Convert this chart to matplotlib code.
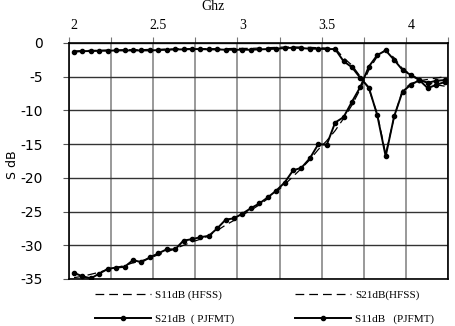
import numpy as np
import matplotlib.pyplot as plt

# frequency points (GHz)
freq = np.round(np.arange(2.0, 4.2001, 0.05), 2)

s21_meas = [-34.1, -34.6, -34.9, -34.2, -33.5, -33.3, -33.2, -32.2, -32.5, -31.8,
            -31.2, -30.6, -30.6, -29.3, -29.1, -28.8, -28.6, -27.5, -26.2, -26.0,
            -25.3, -24.5, -23.8, -22.9, -21.9, -20.7, -18.9, -18.5, -17.1, -15.0,
            -15.1, -11.8, -11.0, -8.7, -6.5, -3.5, -1.8, -1.1, -2.5, -4.0,
            -4.75, -5.5, -5.9, -5.6, -5.5]
s11_meas = [-1.3, -1.2, -1.2, -1.15, -1.15, -1.1, -1.1, -1.1, -1.1, -1.1,
            -1.05, -1.0, -0.95, -0.95, -0.9, -0.9, -0.95, -0.95, -1.0, -1.0,
            -1.0, -1.0, -0.95, -0.9, -0.85, -0.75, -0.7, -0.75, -0.85, -0.85,
            -0.9, -0.9, -2.7, -3.6, -5.2, -6.6, -10.7, -16.8, -10.9, -7.2,
            -6.2, -5.5, -6.7, -6.2, -5.8]
s21_hfss = [-34.8, -34.6, -34.3, -34.0, -33.6, -33.3, -33.0, -32.6, -32.3, -31.9,
            -31.4, -31.0, -30.5, -30.0, -29.5, -29.1, -28.6, -27.8, -27.0, -26.3,
            -25.5, -24.8, -24.0, -23.1, -22.1, -21.0, -19.8, -18.6, -17.3, -15.8,
            -14.5, -13.0, -11.2, -9.2, -6.8, -4.0, -2.0, -1.0, -2.2, -3.8,
            -4.7, -5.4, -5.9, -6.2, -6.4]
s11_hfss = [-1.2, -1.15, -1.1, -1.1, -1.05, -1.05, -1.0, -1.0, -1.0, -0.95,
            -0.95, -0.9, -0.9, -0.85, -0.85, -0.85, -0.85, -0.85, -0.85, -0.8,
            -0.8, -0.8, -0.75, -0.7, -0.65, -0.6, -0.6, -0.6, -0.65, -0.7,
            -0.75, -0.8, -2.2, -3.3, -5.0, -6.8, -10.5, -16.5, -11.0, -7.0,
            -6.0, -5.6, -5.4, -5.2, -5.0]

x_labels = [2, 2.5, 3, 3.5, 4]
y_ticks = [0, -5, -10, -15, -20, -25, -30, -35]

fig = plt.figure(figsize=(4.55, 3.26), dpi=100)
ax = fig.add_axes([69/455, 1-279/326, 379/455, 236/326])

dash = (0, (7, 4))
l1, = ax.plot(freq, s11_hfss, color='black', lw=0.9, linestyle=dash)
l2, = ax.plot(freq, s21_hfss, color='black', lw=0.9, linestyle=dash)
l3, = ax.plot(freq, s21_meas, color='black', lw=1.4, marker='o', ms=3)
l4, = ax.plot(freq, s11_meas, color='black', lw=1.4, marker='o', ms=3)

ax.set_xlim(1.97, 4.22)
ax.set_ylim(-35, 0)

# vertical grid on Excel-like category ticks, labels placed separately
grid_x = 1.97 + 0.25 * np.arange(10)
ax.set_xticks(grid_x)
ax.set_xticklabels([''] * len(grid_x))
ax.set_xticks(x_labels, minor=True)
ax.set_xticklabels([str(v) for v in x_labels], minor=True,
                   family='Liberation Serif', fontsize=10)
ax.xaxis.tick_top()
ax.tick_params(axis='x', which='major', direction='out', length=4, color='#777777')
ax.tick_params(axis='x', which='minor', length=0, pad=8)
ax.grid(axis='x', which='major', color='#888888', lw=1.2)

ax.set_yticks(y_ticks)
ax.set_yticklabels([str(v) for v in y_ticks], family='DejaVu Sans', fontsize=10)
ax.tick_params(axis='y', direction='out', length=4, color='#555555', pad=15)
ax.grid(axis='y', color='#333333', lw=1.0)
ax.set_axisbelow(True)

for sp in ax.spines.values():
    sp.set_color('black')
    sp.set_linewidth(1.2)

fig.text(13/455, 1-165/326, 'S dB', rotation=90, ha='center', va='center',
         family='DejaVu Sans', fontsize=9)
fig.text(213/455, 1-10/326, 'Ghz', ha='center', va='baseline',
         family='Liberation Serif', fontsize=10)

fig.legend([l1, l3, l2, l4],
           ['S11dB (HFSS)', 'S21dB  ( PJFMT)', 'S21dB(HFSS)', 'S11dB   (PJFMT)'],
           ncol=2, loc='upper left', bbox_to_anchor=(95/455, 1-290/326),
           frameon=False, borderpad=0, borderaxespad=0, handlelength=5,
           handletextpad=0.4, columnspacing=5.5, labelspacing=1.25,
           prop={'family': 'Liberation Serif', 'size': 8})

fig.savefig('out.png', dpi=100)
